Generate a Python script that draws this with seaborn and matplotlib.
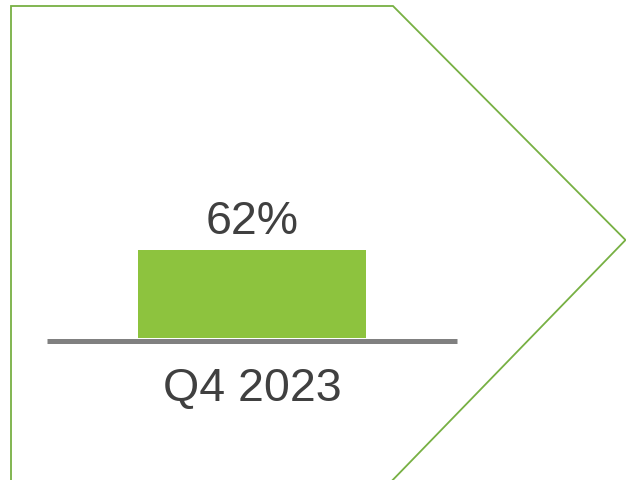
import matplotlib
matplotlib.use("Agg")
import matplotlib.pyplot as plt
import seaborn as sns
import pandas as pd
from matplotlib.lines import Line2D

categories = ["Q4 2023"]
values = [62]
value_labels = ["62%"]

sns.set_theme(style="white")
plt.rcParams['font.family'] = ['Liberation Sans', 'DejaVu Sans']

W, H = 626, 481
fig = plt.figure(figsize=(W / 100, H / 100), dpi=100)
fig.patch.set_facecolor("white")

# decorative chevron outline (figure pixel coords -> fractions)
pts = [(11, 492), (11, 7), (393, 7), (625.5, 241), (384, 490)]
xs = [p[0] / W for p in pts]
ys = [1 - p[1] / H for p in pts]
fig.add_artist(Line2D(xs, ys, transform=fig.transFigure, color="#77B043",
                      lw=1.3, solid_joinstyle="miter"))

# axes: x from 47 to 457 px, bottom at 339 px, 100% at 197 px
left, right = 47, 457
bottom_px, top_px = 339, 197
ax = fig.add_axes([left / W, 1 - bottom_px / H, (right - left) / W, (bottom_px - top_px) / H])
ax.set_facecolor("none")

df = pd.DataFrame({"cat": categories, "val": values})
sns.barplot(data=df, x="cat", y="val", ax=ax, color="#8DC33E", width=228 / 410,
            saturation=1, edgecolor="none", zorder=3)
ax.set_ylim(0, 100)
ax.set_xlim(-0.5, 0.5)

for c in ax.containers:
    ax.bar_label(c, labels=value_labels, padding=5, fontsize=33.5, color="#404040")

for s in ["top", "left", "right"]:
    ax.spines[s].set_visible(False)
ax.spines["bottom"].set_position(("outward", 1.8))
ax.spines["bottom"].set_color("#808080")
ax.spines["bottom"].set_linewidth(3.6)
ax.spines["bottom"].set_capstyle("butt")
ax.set_yticks([])
ax.tick_params(axis="x", length=0, pad=18, labelsize=33.5, labelcolor="#404040")
ax.set_xlabel("")
ax.set_ylabel("")

fig.savefig("out.png", dpi=100, facecolor="white")
